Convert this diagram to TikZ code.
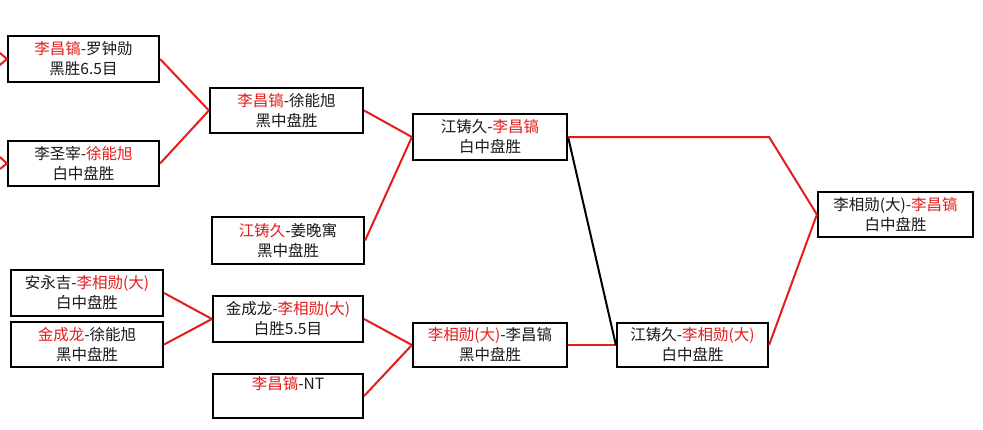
\documentclass[tikz,border=0pt]{standalone}
\usepackage{fontspec}
\setmainfont{Noto Sans CJK SC}
\definecolor{wred}{RGB}{228,28,28}
\newcommand{\rd}[1]{\textcolor{wred}{#1}}
\tikzset{
  game/.style={draw=black, line width=2.2pt, inner sep=0pt, align=center,
    font=\fontsize{15.5}{20}\selectfont, text=black!90},
  winline/.style={draw=wred, line width=2pt},
  lossline/.style={draw=black, line width=2pt}
}
\begin{document}
\begin{tikzpicture}[x=1pt,y=-1pt]
\clip (0,0) rectangle (983,429);
\fill[white] (0,0) rectangle (983,429);
% boxes
\node[game, minimum width=151, minimum height=46] (A) at (83.5,59) {\rd{李昌镐}-罗钟勋\\黑胜6.5目};
\node[game, minimum width=151, minimum height=45] (B) at (83.5,163.5) {李圣宰-\rd{徐能旭}\\白中盘胜};
\node[game, minimum width=153, minimum height=45] (C) at (286.5,110.5) {\rd{李昌镐}-徐能旭\\黑中盘胜};
\node[game, minimum width=152, minimum height=47] (D) at (288,240.5) {\rd{江铸久}-姜晚寓\\黑中盘胜};
\node[game, minimum width=154, minimum height=46] (E) at (490,137) {江铸久-\rd{李昌镐}\\白中盘胜};
\node[game, minimum width=152, minimum height=46] (F) at (87,293) {安永吉-\rd{李相勋(大)}\\白中盘胜};
\node[game, minimum width=152, minimum height=45] (G) at (87,344.5) {\rd{金成龙}-徐能旭\\黑中盘胜};
\node[game, minimum width=150, minimum height=46] (H) at (288,319) {金成龙-\rd{李相勋(大)}\\白胜5.5目};
\node[game, minimum width=150, minimum height=44] (I) at (288,396) {\rd{李昌镐}-NT\\\strut};
\node[game, minimum width=154, minimum height=44] (J) at (490,345) {\rd{李相勋(大)}-李昌镐\\黑中盘胜};
\node[game, minimum width=151, minimum height=44] (K) at (692.5,345) {江铸久-\rd{李相勋(大)}\\白中盘胜};
\node[game, minimum width=155, minimum height=45] (L) at (895.5,214.5) {李相勋(大)-\rd{李昌镐}\\白中盘胜};
% cropped incoming lines at the left edge
\coordinate (a1) at (0,53);
\coordinate (a2) at (0,65);
\coordinate (b1) at (0,157);
\coordinate (b2) at (0,169);
\draw[winline] (a1) -- (A.west) -- (a2);
\draw[winline] (b1) -- (B.west) -- (b2);
% connectors
\draw[winline] (A.east) -- (C.west);
\draw[winline] (B.east) -- (C.west);
\draw[winline] (C.east) -- (E.west);
\draw[winline] (D.east) -- (E.west);
\draw[winline] (F.east) -- (H.west);
\draw[winline] (G.east) -- (H.west);
\draw[winline] (H.east) -- (J.west);
\draw[winline] (I.east) -- (J.west);
\draw[winline] (J.east) -- (K.west);
\draw[lossline] (E.east) -- (K.west);
\coordinate (Ebend) at (K.east |- E.east);
\draw[winline] (E.east) -- (Ebend) -- (L.west);
\draw[winline] (K.east) -- (L.west);
\end{tikzpicture}
\end{document}
